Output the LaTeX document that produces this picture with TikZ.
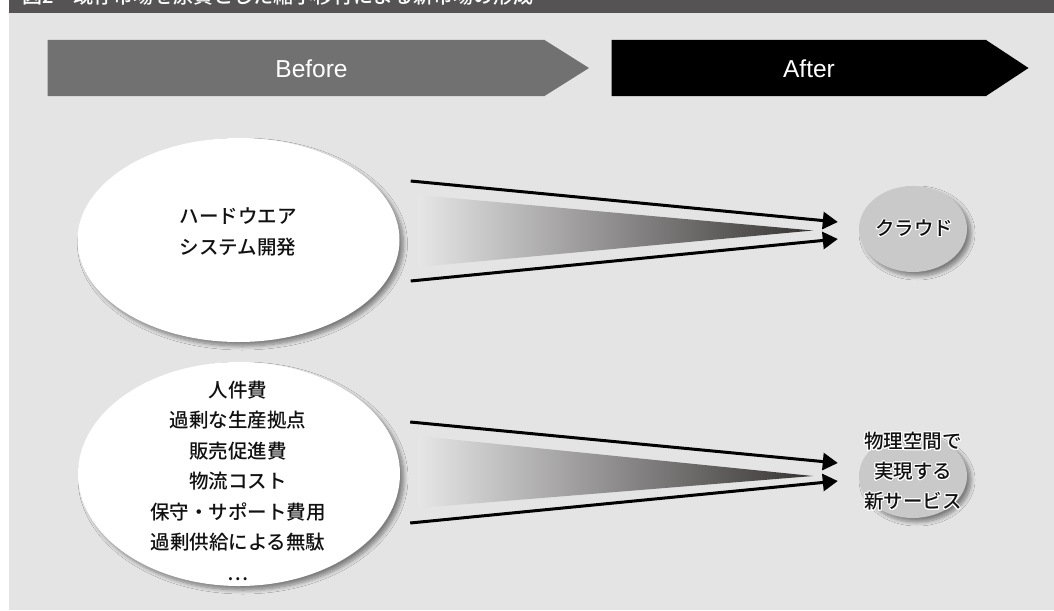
\documentclass[tikz,border=0pt]{standalone}
\usepackage{fontspec}
\setmainfont{Noto Sans CJK JP}[UprightFont={* Medium}]
\newfontfamily\latinfont{Liberation Sans}
\usepackage[copies]{contour}
\contourlength{1pt}
\usetikzlibrary{arrows.meta,shapes.geometric,shadows.blur}
\definecolor{bg}{HTML}{E4E4E4}
\definecolor{titlebar}{HTML}{555354}
\definecolor{beforegray}{HTML}{717171}
\definecolor{cloudgray}{HTML}{C9C9C9}
\definecolor{wedgelight}{HTML}{E6E6E6}
\definecolor{wedgedark}{HTML}{363232}
\definecolor{textblack}{HTML}{111111}
\tikzset{
  ellshadow/.style={blur shadow={shadow xshift=4pt, shadow yshift=-4pt, shadow blur steps=8, shadow blur radius=4pt, shadow opacity=45}},
  bigell/.style={ellipse, fill=white, inner sep=0pt, ellshadow},
  smallell/.style={ellipse, fill=cloudgray, inner sep=0pt, ellshadow},
  ltext/.style={align=center, text=textblack, inner sep=0pt, font=\fontsize{19.5}{30.5}\selectfont},
  headtext/.style={text=white, inner sep=0pt, font=\latinfont\fontsize{24.5}{28}\selectfont},
  conn/.style={line width=3pt, -{Triangle[length=15pt,width=17pt]}, black},
  wedge/.style={left color=wedgelight, right color=wedgedark}
}
\begin{document}
\begin{tikzpicture}[x=1pt,y=-1pt]
\useasboundingbox (0,0) rectangle (1054,610);
\fill[bg] (9,13) rectangle (1054,610);
\fill[titlebar] (9,0) rectangle (1054,13);
\node[anchor=base west, text=white, inner sep=0pt, font=\fontsize{20}{20}\selectfont] (title) at (22,3.5) {図2　既存市場を原資とした縮小移行による新市場の形成};

% header arrows
\fill[beforegray] (47.5,40) -- (544.5,40) -- (589,68) -- (544.5,96) -- (47.5,96) -- cycle;
\fill[black] (611.5,40) -- (986,40) -- (1028.5,68) -- (986,96) -- (611.5,96) -- cycle;
\node[headtext] (before) at (311.5,69) {Before};
\node[headtext] (after) at (809,69) {After};

% wedges
\shade[wedge] (418,195) -- (813,230.5) -- (418,267) -- cycle;
\shade[wedge] (418,436) -- (813,476) -- (418,508) -- cycle;

% left ellipses
\node[bigell, minimum width=322pt, minimum height=204pt] (hw) at (238.5,240) {};
\node[ltext] (hwtext) at (238,232) {ハードウエア\\システム開発};
\node[bigell, minimum width=322pt, minimum height=224pt] (cost) at (239,474) {};
\node[ltext] (costtext) at (238,480.5) {人件費\\過剰な生産拠点\\販売促進費\\物流コスト\\保守・サポート費用\\過剰供給による無駄\\…};

% right ellipses
\node[smallell, minimum width=108pt, minimum height=86pt] (cloud) at (913,229) {};
\node[ltext] (cloudtext) at (914,229) {\contour{white}{クラウド}};
\node[smallell, minimum width=108pt, minimum height=84pt] (new) at (913,476) {};
\node[ltext, font=\fontsize{19.5}{30}\selectfont] (newtext) at (913,472) {\contour{white}{物理空間で}\\\contour{white}{実現する}\\\contour{white}{新サービス}};

% connectors
\coordinate (a1s) at ([xshift=11pt,yshift=59pt]hw.east);
\coordinate (a1e) at ([xshift=-21pt,yshift=7pt]cloud.west);
\coordinate (a2s) at ([xshift=11pt,yshift=-41pt]hw.east);
\coordinate (a2e) at ([xshift=-21pt,yshift=-10pt]cloud.west);
\draw[conn] (a1s) -- (a1e);
\draw[conn] (a2s) -- (a2e);
\coordinate (b1s) at ([xshift=10pt,yshift=52pt]cost.east);
\coordinate (b1e) at ([xshift=-21pt,yshift=13pt]new.west);
\coordinate (b2s) at ([xshift=10pt,yshift=-49pt]cost.east);
\coordinate (b2e) at ([xshift=-21pt,yshift=-5pt]new.west);
\draw[conn] (b1s) -- (b1e);
\draw[conn] (b2s) -- (b2e);
\end{tikzpicture}
\end{document}
